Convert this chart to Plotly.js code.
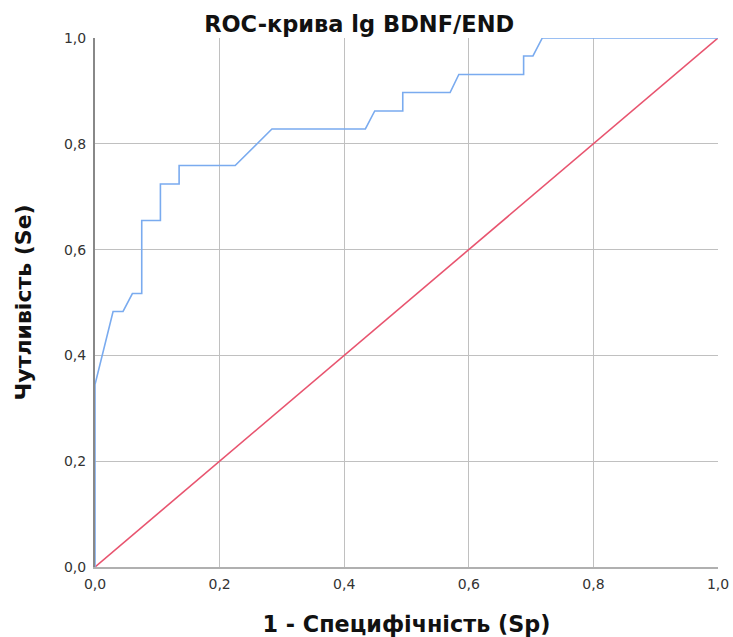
<!DOCTYPE html>
<html>
<head>
<meta charset="utf-8">
<script src="https://cdn.plot.ly/plotly-3.0.1.min.js"></script>
<style>body{margin:0;background:#fff;} #chart{width:733px;height:637px;}</style>
</head>
<body>
<div id="chart"></div>
<script>
// ROC curve points (1 - specificity, sensitivity)
var rocX = [0, 0, 0.029, 0.045, 0.060, 0.075, 0.075, 0.105, 0.105, 0.135, 0.135, 0.225, 0.284, 0.434, 0.449, 0.494, 0.494, 0.570, 0.584, 0.688, 0.688, 0.703, 0.718, 1.0];
var rocY = [0, 0.345, 0.483, 0.483, 0.517, 0.517, 0.655, 0.655, 0.724, 0.724, 0.759, 0.759, 0.828, 0.828, 0.862, 0.862, 0.897, 0.897, 0.931, 0.931, 0.966, 0.966, 1.0, 1.0];
var refX = [0, 1];
var refY = [0, 1];
var tickVals = [0, 0.2, 0.4, 0.6, 0.8, 1.0];
var tickText = ["0,0", "0,2", "0,4", "0,6", "0,8", "1,0"];
var yTitle = 'Чутливість (Se)';

var FONT = 'DejaVu Sans, Liberation Sans, Arial, sans-serif';

var traces = [
  {x: refX, y: refY, mode: 'lines', line: {color: '#e8546f', width: 1.6}, hoverinfo: 'skip', showlegend: false},
  {x: rocX, y: rocY, mode: 'lines', line: {color: '#7aabef', width: 1.6}, showlegend: false}
];

var layout = {
  width: 733, height: 637,
  margin: {l: 95, r: 15, t: 38, b: 70},
  paper_bgcolor: '#ffffff', plot_bgcolor: '#ffffff',
  font: {family: FONT, color: '#222'},
  title: {text: '<b>ROC-крива lg BDNF/END</b>', font: {family: FONT, size: 22.5, color: '#111'}, x: 0.49, xref: 'container', y: 0.962, yref: 'container', yanchor: 'middle', xanchor: 'center'},
  xaxis: {
    range: [0, 1], tickvals: tickVals, ticktext: tickText,
    showgrid: true, gridcolor: '#c0c0c0', gridwidth: 1.2,
    zeroline: false, showline: true, linecolor: '#b0b0b0', linewidth: 1.5,
    ticks: '', tickfont: {family: FONT, size: 14, color: '#333'}, ticklabelstandoff: 4,
    title: {text: '<b>1 - Специфічність (Sp)</b>', font: {family: FONT, size: 22.3, color: '#111'}, standoff: 26},
    automargin: false
  },
  yaxis: {
    range: [0, 1], tickvals: tickVals, ticktext: tickText,
    showgrid: true, gridcolor: '#c0c0c0', gridwidth: 1.2,
    zeroline: false, showline: true, linecolor: '#888888', linewidth: 2,
    ticks: '', tickfont: {family: FONT, size: 14, color: '#333'}, ticklabelstandoff: 4,
    automargin: false
  },
  annotations: [{
    text: '<b>' + yTitle + '</b>', textangle: -90, showarrow: false,
    xref: 'paper', yref: 'paper', x: -0.114, y: 0.5, xanchor: 'center', yanchor: 'middle',
    font: {family: FONT, size: 22, color: '#111'}
  }]
};

Plotly.newPlot('chart', traces, layout, {displayModeBar: false, staticPlot: true});
</script>
</body>
</html>
